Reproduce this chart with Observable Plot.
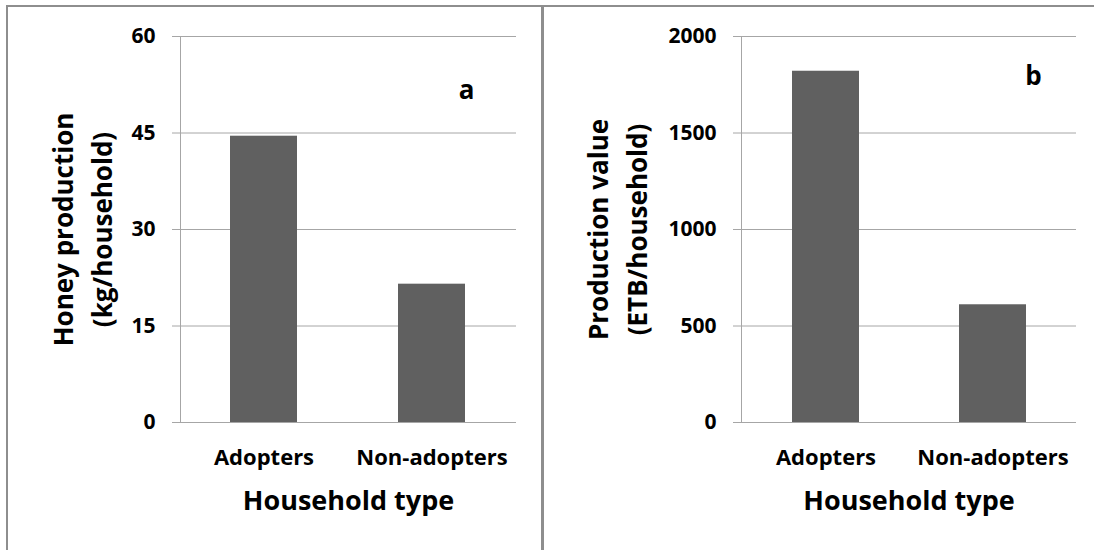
<!DOCTYPE html>
<html>
<head>
<meta charset="utf-8">
<script src="https://cdn.jsdelivr.net/npm/d3@7"></script>
<script src="https://cdn.jsdelivr.net/npm/@observablehq/plot@0.6"></script>
<style>
  html, body { margin: 0; padding: 0; background: #fff; }
  #wrap { position: relative; width: 1094px; height: 550px; overflow: hidden; background: #fff; }
  .line { position: absolute; background: #8e8e8e; }
  .panel { position: absolute; top: 0; }
</style>
</head>
<body>
<div id="wrap">
  <div id="pa" class="panel" style="left:0px"></div>
  <div id="pb" class="panel" style="left:544px"></div>
  <div class="line" style="left:6px; top:5px; width:1088px; height:2px;"></div>
  <div class="line" style="left:6px; top:5px; width:2px; height:545px;"></div>
  <div class="line" style="left:541px; top:5px; width:3px; height:545px;"></div>
</div>
<script>
const categories = ["Adopters", "Non-adopters"];
const honeyKg = [44.5, 21.5];
const valueETB = [1820, 610];
const yTicksA = [0, 15, 30, 45, 60];
const yTicksB = [0, 500, 1000, 1500, 2000];
const yTitleA = "Honey production\n(kg/household)";
const yTitleB = "Production value\n(ETB/household)";
const xTitle = "Household type";
const letterA = "a";
const letterB = "b";

const GRID = "#a6a6a6";
const BAR = "#606060";
const FONT = "'Open Sans', 'DejaVu Sans', sans-serif";

function panel({values, ticks, yTitle, letter, width, marginLeft, marginRight, titleDx, letterDx, letterDy}) {
  const data = categories.map((c, i) => ({cat: c, v: values[i]}));
  return Plot.plot({
    width, height: 550,
    marginLeft, marginRight, marginTop: 36, marginBottom: 128,
    style: {fontFamily: FONT, background: "transparent", overflow: "visible", color: "black"},
    x: {domain: categories, paddingInner: 0.6, paddingOuter: 0.3, axis: null},
    y: {domain: [ticks[0], ticks[ticks.length - 1]], axis: null},
    marks: [
      Plot.gridY({ticks, stroke: GRID, strokeOpacity: 1, strokeWidth: 1}),
      Plot.frame({anchor: "left", stroke: GRID, strokeWidth: 1}),
      Plot.barY(data, {x: "cat", y: "v", fill: BAR}),
      Plot.axisY({ticks, tickSize: 8, tickPadding: 17, fontSize: 21, fontWeight: "bold",
                  stroke: GRID, strokeOpacity: 1, fill: "black", label: null, tickFormat: d => `${d}`}),
      Plot.axisX({tickSize: 0, tickPadding: 27, fontSize: 22, fontWeight: "bold", fill: "black", label: null}),
      Plot.text([yTitle], {frameAnchor: "left", rotate: -90, dx: titleDx, fontSize: 26, fontWeight: "bold",
                           textAnchor: "middle", lineAnchor: "middle",
                           lineHeight: 1.5, fill: "black", text: d => d}),
      Plot.text([xTitle], {frameAnchor: "bottom", dy: 79, fontSize: 27, fontWeight: "bold", fill: "black",
                           lineAnchor: "middle", text: d => d}),
      Plot.text([letter], {frameAnchor: "top-left", dx: letterDx, dy: letterDy, fontSize: 26, fontWeight: "bold",
                           fill: "black", textAnchor: "middle", lineAnchor: "middle", text: d => d})
    ]
  });
}

document.getElementById("pa").append(panel({
  values: honeyKg, ticks: yTicksA, yTitle: yTitleA, letter: letterA,
  width: 541, marginLeft: 180, marginRight: 25, titleDx: -100, letterDx: 286, letterDy: 54
}));
document.getElementById("pb").append(panel({
  values: valueETB, ticks: yTicksB, yTitle: yTitleB, letter: letterB,
  width: 550, marginLeft: 197, marginRight: 18, titleDx: -126, letterDx: 292, letterDy: 40
}));
</script>
</body>
</html>
